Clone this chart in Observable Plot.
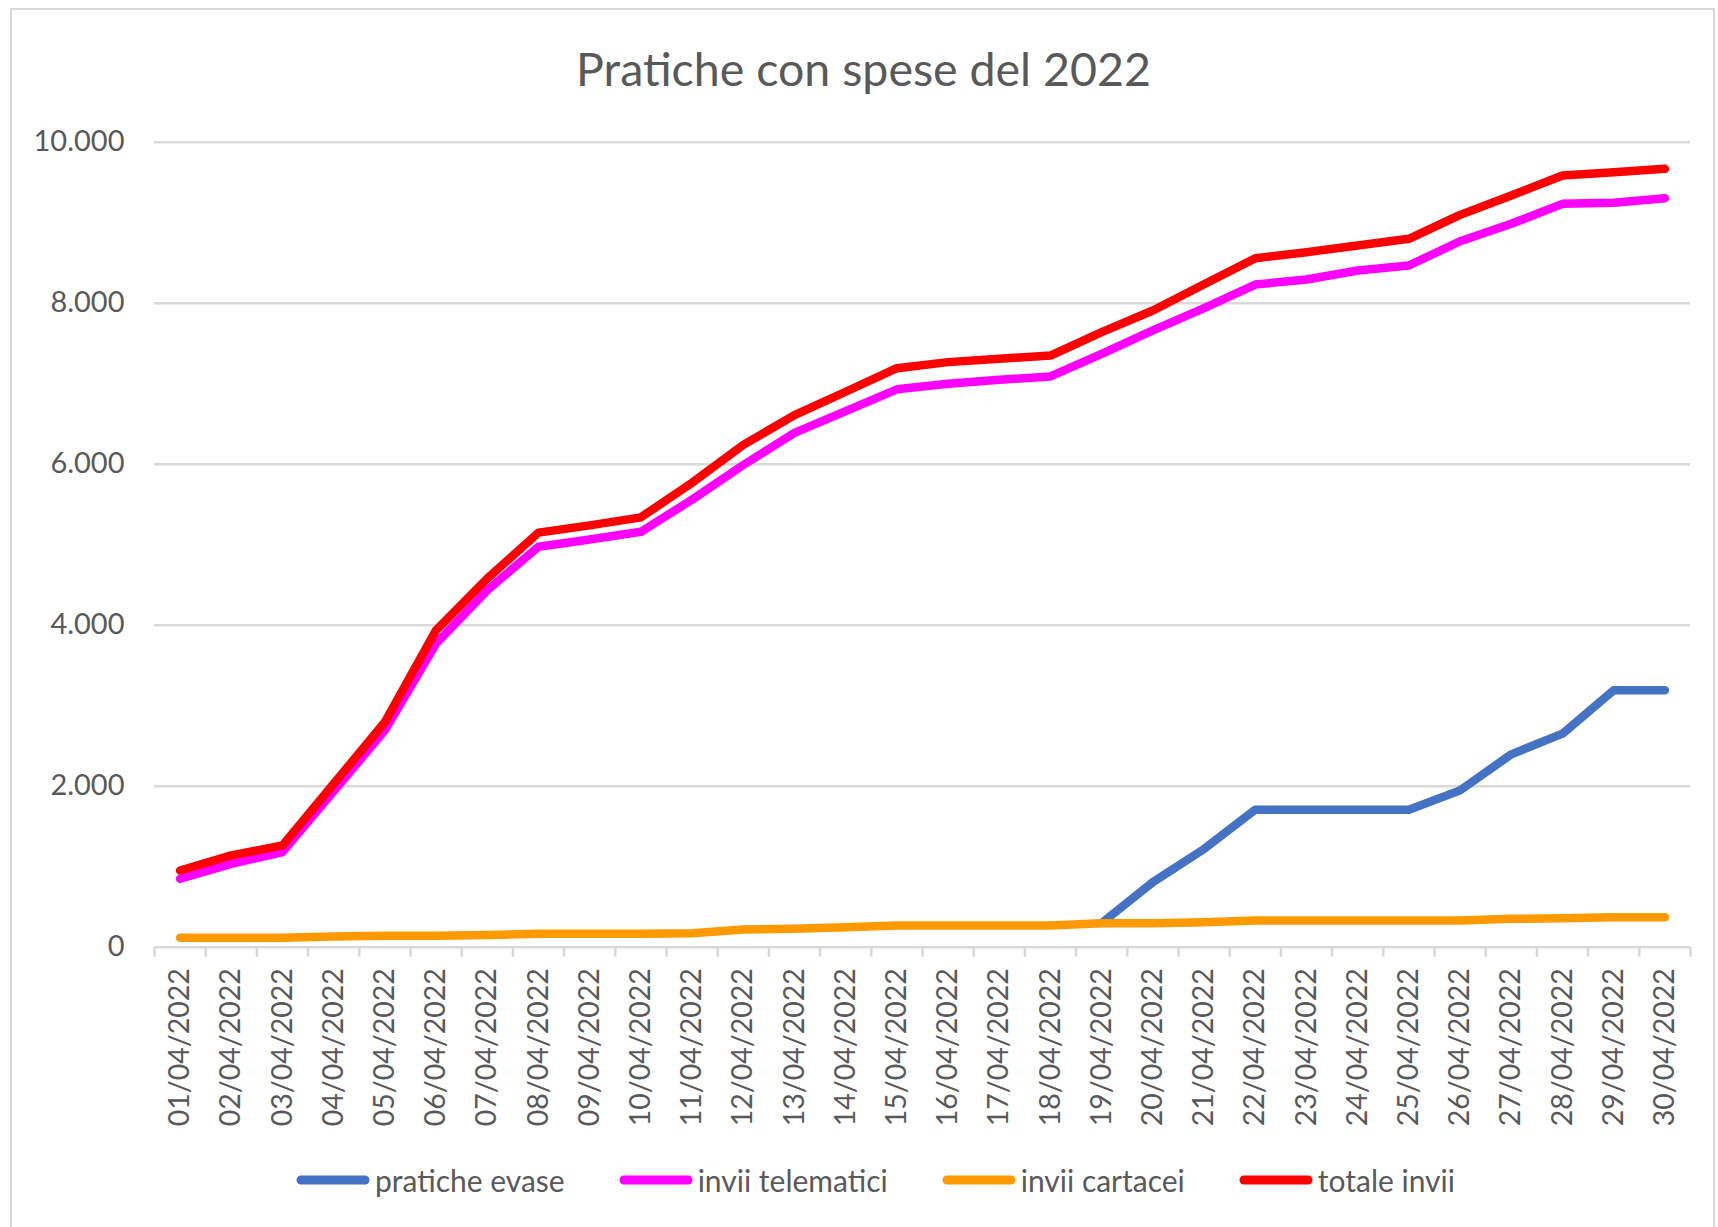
<!DOCTYPE html>
<html>
<head>
<meta charset="utf-8">
<script src="https://cdn.jsdelivr.net/npm/d3@7"></script>
<script src="https://cdn.jsdelivr.net/npm/@observablehq/plot@0.6"></script>
<style>
  html, body { margin: 0; padding: 0; background: #ffffff; }
  #wrap { position: relative; width: 1718px; height: 1227px; overflow: hidden; font-family: Lato, "Open Sans", sans-serif; }
  #frame { position: absolute; left: 10px; top: 8px; width: 1705px; height: 1260px; border: 2px solid #d9d9d9; box-sizing: border-box; }
  #title { position: absolute; left: 12px; width: 1703px; top: 45px; text-align: center; font-size: 46.5px; line-height: 46px; color: #595959; }
  #chart { position: absolute; left: 0; top: 100px; }
  #legend { position: absolute; left: 0; width: 1751px; top: 1162px; display: flex; justify-content: center; gap: 54px; font-size: 30px; line-height: 36px; color: #595959; }
  .item { display: flex; align-items: center; }
  .item svg { margin-right: 5px; }
</style>
</head>
<body>
<div id="wrap">
  <div id="frame"></div>
  <div id="title">Pratiche con spese del 2022</div>
  <div id="chart"></div>
  <div id="legend"></div>
</div>
<script>
const dates = ["01/04/2022","02/04/2022","03/04/2022","04/04/2022","05/04/2022","06/04/2022","07/04/2022","08/04/2022","09/04/2022","10/04/2022",
               "11/04/2022","12/04/2022","13/04/2022","14/04/2022","15/04/2022","16/04/2022","17/04/2022","18/04/2022","19/04/2022","20/04/2022",
               "21/04/2022","22/04/2022","23/04/2022","24/04/2022","25/04/2022","26/04/2022","27/04/2022","28/04/2022","29/04/2022","30/04/2022"];

const praticheEvase = [null,null,null,null,null,null,null,null,null,null,
                       null,null,null,null,null,null,null,null,300,808,
                       1220,1708,1708,1708,1708,1948,2396,2653,3192,3192];
const inviiTelematici = [850,1036,1181,1936,2694,3772,4435,4974,5065,5160,
                         5560,5990,6390,6660,6930,7000,7048,7090,7371,7661,
                         7940,8232,8294,8406,8468,8770,8986,9234,9247,9304];
const inviiCartacei = [116,116,116,133,141,141,153,166,166,166,
                       174,220,228,249,269,269,269,269,298,298,
                       311,332,332,332,332,332,352,360,373,373];
const totaleInvii = [953,1140,1264,2030,2798,3938,4580,5150,5240,5340,
                     5770,6240,6610,6900,7193,7268,7310,7350,7640,7909,
                     8235,8559,8634,8717,8800,9097,9338,9586,9627,9669];

const seriesNames = ["pratiche evase","invii telematici","invii cartacei","totale invii"];
const seriesColors = ["#4472c4","#ff00ff","#ff9900","#ff0000"];
const seriesValues = [praticheEvase, inviiTelematici, inviiCartacei, totaleInvii];

const yTicks = [0, 2000, 4000, 6000, 8000, 10000];
const yTickLabels = ["0","2.000","4.000","6.000","8.000","10.000"];

const grey = "#d9d9d9";
const textGrey = "#595959";
const catBounds = d3.range(0, dates.length + 1);

const lineMarks = seriesValues.map((vals, k) =>
  Plot.lineY(vals, {
    x: (d, i) => i + 0.5,
    y: d => d,
    stroke: seriesColors[k],
    strokeWidth: 8.5,
    strokeLinecap: "round",
    strokeLinejoin: "round"
  })
);

const chart = Plot.plot({
  width: 1718,
  height: 1020,
  marginLeft: 154,
  marginRight: 28,
  marginTop: 41.7,
  marginBottom: 173.3,
  style: { fontFamily: "Lato, 'Open Sans', sans-serif", fontSize: "29px", color: textGrey, background: "transparent", overflow: "visible" },
  x: { type: "linear", domain: [0, dates.length], axis: null },
  y: { domain: [0, 10000], axis: null },
  marks: [
    Plot.ruleY(yTicks, { stroke: grey, strokeWidth: 2.5 }),
    Plot.ruleX(catBounds, { x: d => d, y1: 0, y2: -125, stroke: grey, strokeWidth: 2.5 }),
    Plot.text(yTicks, {
      y: d => d, text: (d, i) => yTickLabels[i], frameAnchor: "left",
      textAnchor: "end", dx: -30, lineAnchor: "middle", fill: textGrey, fontSize: 29
    }),
    Plot.text(dates, {
      x: (d, i) => i + 0.5, text: d => d, frameAnchor: "bottom",
      rotate: -90, textAnchor: "end", lineAnchor: "middle", dy: 21, fill: textGrey, fontSize: 28.5
    }),
    ...lineMarks
  ]
});
document.getElementById("chart").appendChild(chart);

const legend = d3.select("#legend");
seriesNames.forEach((name, k) => {
  const item = legend.append("div").attr("class", "item");
  const svg = item.append("svg").attr("width", 74).attr("height", 12);
  svg.append("line").attr("x1", 5).attr("x2", 69).attr("y1", 6).attr("y2", 6)
    .attr("stroke", seriesColors[k]).attr("stroke-width", 9).attr("stroke-linecap", "round");
  item.append("span").text(name);
});
</script>
</body>
</html>
